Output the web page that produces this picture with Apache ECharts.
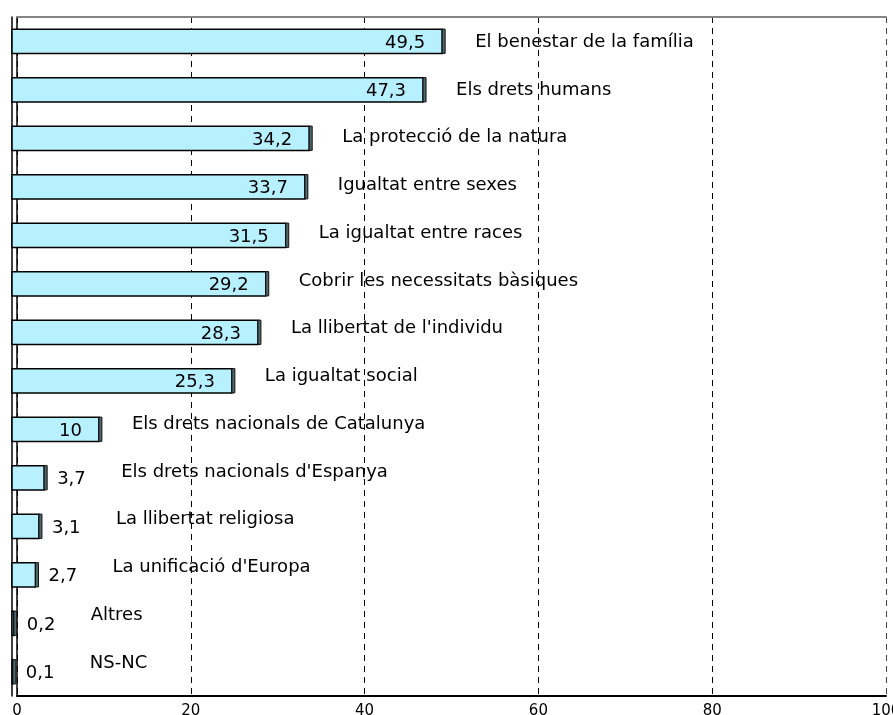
<!DOCTYPE html>
<html>
<head>
<meta charset="utf-8">
<title>Valors</title>
<script src="https://cdn.jsdelivr.net/npm/echarts@6/dist/echarts.min.js"></script>
<style>
  html, body { margin: 0; padding: 0; background: #fff; }
  #chart { width: 893px; height: 715px; }
</style>
</head>
<body>
<div id="chart"></div>
<script>
// Categories, top to bottom
const categories = [
  'El benestar de la família',
  'Els drets humans',
  'La protecció de la natura',
  'Igualtat entre sexes',
  'La igualtat entre races',
  'Cobrir les necessitats bàsiques',
  "La llibertat de l'individu",
  'La igualtat social',
  'Els drets nacionals de Catalunya',
  "Els drets nacionals d'Espanya",
  'La llibertat religiosa',
  "La unificació d'Europa",
  'Altres',
  'NS-NC'
];

// Percentages
const values = [49.5, 47.3, 34.2, 33.7, 31.5, 29.2, 28.3, 25.3, 10, 3.7, 3.1, 2.7, 0.2, 0.1];

// Value axis ticks
const xTicks = [0, 20, 40, 60, 80, 100];

const FONT = '"DejaVu Sans", Verdana, sans-serif';
const DEPTH = 5;          // front face sits this far left of the back wall
const FACE = '#B7F0FF';
const SIDE = '#4E686C';

function fmt(v) {
  return String(v).replace('.', ',');
}

const chart = echarts.init(document.getElementById('chart'), null, { renderer: 'canvas' });

const option = {
  animation: false,
  backgroundColor: '#ffffff',
  grid: { left: 17, right: 7, top: 17, bottom: 19, containLabel: false, outerBoundsMode: 'none' },
  xAxis: [
    {
      type: 'value',
      min: xTicks[0],
      max: xTicks[xTicks.length - 1],
      interval: xTicks[1] - xTicks[0],
      position: 'bottom',
      axisLine: { show: true, lineStyle: { color: '#000', width: 2 } },
      axisTick: { show: false },
      axisLabel: {
        show: true, color: '#000', fontSize: 15, fontFamily: FONT, margin: 8,
        showMinLabel: true, showMaxLabel: true, hideOverlap: false,
        formatter: v => String(v)
      },
      splitLine: {
        show: true,
        lineStyle: { color: ['#000', '#000', '#000', '#000', '#000', '#444'], width: 1, type: [6, 5] }
      }
    },
    {
      type: 'value',
      min: xTicks[0],
      max: xTicks[xTicks.length - 1],
      position: 'top',
      axisLine: { show: true, lineStyle: { color: '#858585', width: 2 } },
      axisTick: { show: false },
      axisLabel: { show: false },
      splitLine: { show: false }
    }
  ],
  yAxis: [
    {
      type: 'category',
      data: categories,
      inverse: true,
      position: 'left',
      axisLine: { show: true, onZero: false, lineStyle: { color: '#000', width: 1.5 } },
      axisTick: { show: false },
      axisLabel: { show: false },
      splitLine: { show: false }
    },
    {
      type: 'category',
      data: categories,
      inverse: true,
      position: 'left',
      offset: DEPTH,
      axisLine: { show: true, onZero: false, lineStyle: { color: '#000', width: 1.5 } },
      axisTick: { show: false },
      axisLabel: { show: false },
      splitLine: { show: false }
    }
  ],
  series: [
    {
      type: 'custom',
      xAxisIndex: 0,
      yAxisIndex: 0,
      clip: false,
      encode: { x: 0, y: 1 },
      data: values.map((v, i) => [v, i]),
      renderItem: function (params, api) {
        const v = api.value(0);
        const i = api.value(1);
        const end = api.coord([v, i]);
        const zero = api.coord([0, i]);
        const band = api.size([0, 1])[1];
        const h = band * 0.5;
        const yc = end[1];
        const fx0 = zero[0] - DEPTH;
        const fx1 = end[0] - DEPTH;
        const inside = v >= 10;

        const children = [
          {
            type: 'rect',
            shape: { x: fx0, y: yc - h / 2, width: Math.max(fx1 - fx0, 0.5), height: h },
            style: { fill: FACE, stroke: '#000', lineWidth: 1.5 }
          },
          {
            type: 'rect',
            shape: { x: fx1, y: yc - h / 2, width: 3, height: h },
            style: { fill: SIDE, stroke: '#111', lineWidth: 1 }
          },
          {
            type: 'text',
            style: {
              text: fmt(v),
              x: inside ? fx1 - 17 : fx1 + 13,
              y: yc + 2,
              fill: '#000',
              fontSize: 18,
              fontFamily: FONT,
              align: inside ? 'right' : 'left',
              textAlign: inside ? 'right' : 'left',
              verticalAlign: 'middle',
              textVerticalAlign: 'middle'
            }
          },
          {
            type: 'text',
            style: {
              text: categories[i],
              x: end[0] + (inside ? 28 : 72),
              y: yc + 1 - 0.75 * i,
              fill: '#000',
              fontSize: 18,
              fontFamily: FONT,
              align: 'left',
              textAlign: 'left',
              verticalAlign: 'middle',
              textVerticalAlign: 'middle'
            }
          }
        ];
        return { type: 'group', children: children };
      }
    }
  ]
};

chart.setOption(option);
</script>
</body>
</html>
